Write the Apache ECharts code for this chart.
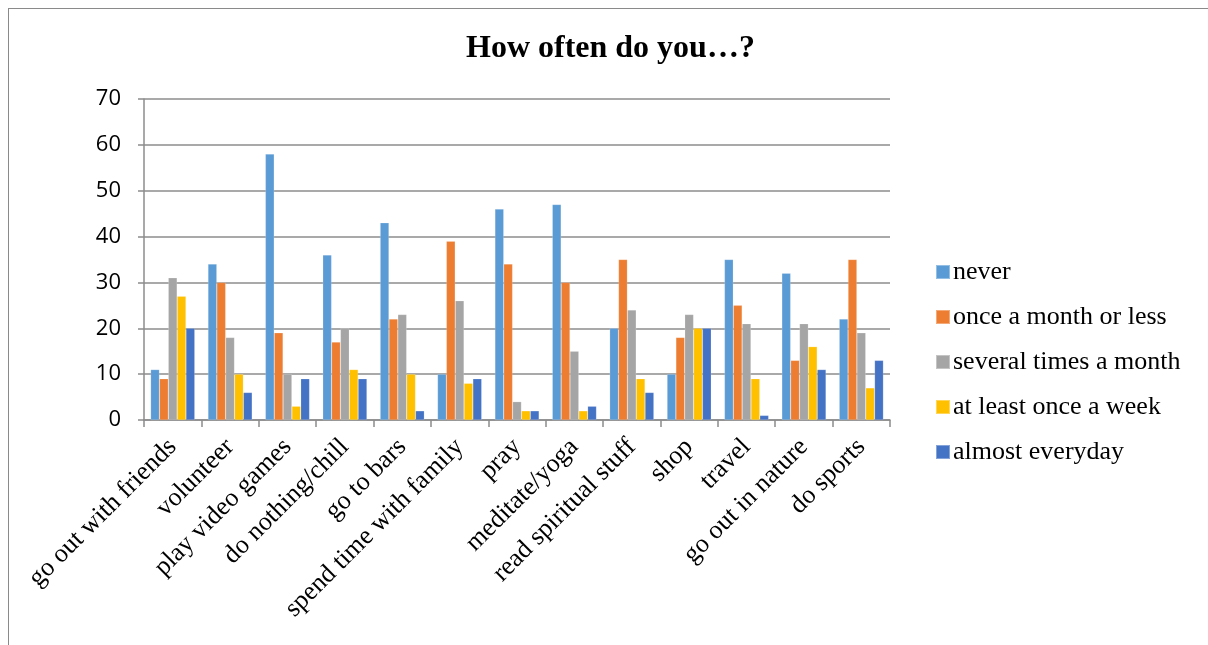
<!DOCTYPE html>
<html>
<head>
<meta charset="utf-8">
<script src="https://cdn.jsdelivr.net/npm/echarts@6/dist/echarts.min.js"></script>
<style>
  html, body { margin: 0; padding: 0; background: #fff; }
  #frame { position: absolute; left: 8px; top: 8px; width: 1200px; height: 637px;
           border-left: 1.5px solid #8a8a8a; border-top: 1.5px solid #8a8a8a; box-sizing: border-box; }
  #chart { position: absolute; left: 0; top: 0; width: 1208px; height: 645px; }
</style>
</head>
<body>
<div id="frame"></div>
<div id="chart"></div>
<script>
const titleText = "How often do you…?";
const categories = ["go out with friends", "volunteer", "play video games", "do nothing/chill", "go to bars",
  "spend time with family", "pray", "meditate/yoga", "read spiritual stuff", "shop", "travel",
  "go out in nature", "do sports"];
const seriesNames = ["never", "once a month or less", "several times a month", "at least once a week", "almost everyday"];
const never        = [11, 34, 58, 36, 43, 10, 46, 47, 20, 10, 35, 32, 22];
const onceMonth    = [9, 30, 19, 17, 22, 39, 34, 30, 35, 18, 25, 13, 35];
const severalMonth = [31, 18, 10, 20, 23, 26, 4, 15, 24, 23, 21, 21, 19];
const onceWeek     = [27, 10, 3, 11, 10, 8, 2, 2, 9, 20, 9, 16, 7];
const everyday     = [20, 6, 9, 9, 2, 9, 2, 3, 6, 20, 1, 11, 13];
const yTicks = [0, 10, 20, 30, 40, 50, 60, 70];
const colors = ["#5B9BD5", "#ED7D31", "#A5A5A5", "#FFC000", "#4472C4"];

const allValues = [never, onceMonth, severalMonth, onceWeek, everyday];
const chart = echarts.init(document.getElementById('chart'), null, { renderer: 'canvas' });
const gridCol = '#8c8c8c';
chart.setOption({
  animation: false,
  backgroundColor: 'transparent',
  color: colors,
  title: {
    text: titleText, left: 461, top: 28,
    textStyle: { fontFamily: 'Liberation Serif', fontWeight: 'bold', fontSize: 32, color: '#000' }
  },
  legend: {
    orient: 'vertical', left: 930, top: 252,
    itemWidth: 14, itemHeight: 14, itemGap: 15,
    icon: 'rect',
    textStyle: { fontFamily: 'Liberation Serif', fontSize: 26, color: '#000', lineHeight: 30, padding: [0, 0, 0, -2] },
    data: seriesNames
  },
  grid: { left: 144, right: 318, top: 99, bottom: 225, containLabel: false },
  xAxis: {
    type: 'category', data: categories,
    axisLine: { lineStyle: { color: gridCol, width: 1.5 } },
    axisTick: { show: true, length: 7, interval: 0, lineStyle: { color: gridCol, width: 1.5 } },
    axisLabel: { rotate: 45, interval: 0, margin: 23, fontFamily: 'Liberation Serif', fontSize: 26, color: '#000' }
  },
  yAxis: {
    type: 'value', min: yTicks[0], max: yTicks[yTicks.length - 1], interval: 10,
    axisLine: { show: true, lineStyle: { color: gridCol, width: 1.5 } },
    axisTick: { show: true, length: 6, lineStyle: { color: gridCol, width: 1.5 } },
    splitLine: { lineStyle: { color: gridCol, width: 1.5 } },
    axisLabel: { margin: 23, fontFamily: 'Open Sans', fontSize: 22, color: '#000' }
  },
  series: seriesNames.map((name, i) => ({
    name, type: 'bar', data: allValues[i],
    barGap: '0%', barCategoryGap: '23%',
    itemStyle: { color: colors[i], borderColor: 'rgba(255,255,255,0.35)', borderWidth: 0.5 }
  }))
});
</script>
</body>
</html>
